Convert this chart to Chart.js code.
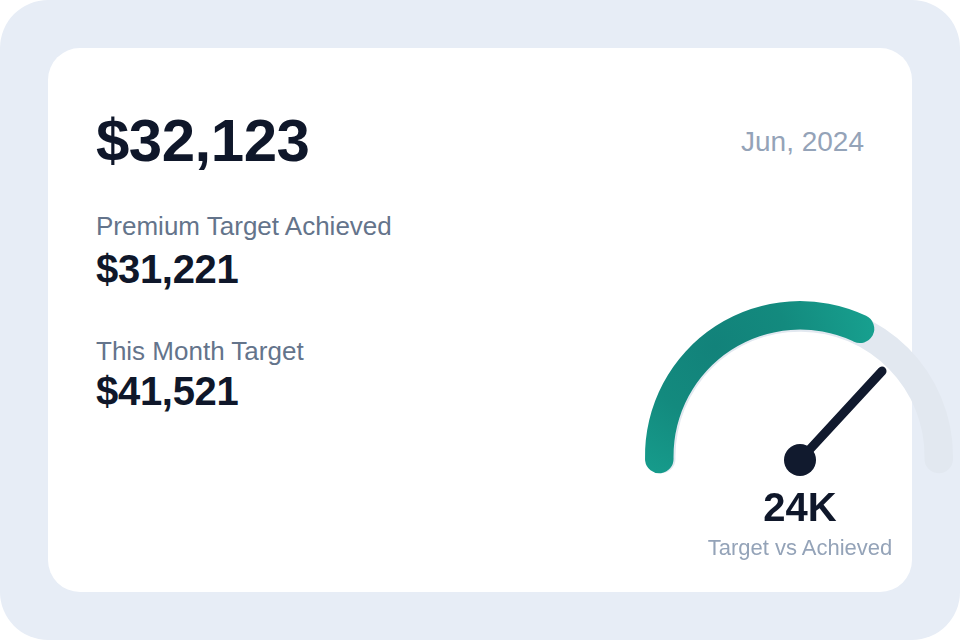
<!DOCTYPE html>
<html>
<head>
<meta charset="utf-8">
<script src="https://cdn.jsdelivr.net/npm/chart.js@4.4.1/dist/chart.umd.min.js"></script>
<style>
  body { margin: 0; background: #ffffff; overflow: hidden; font-family: "Liberation Sans", Arial, sans-serif; }
  #frame { position: absolute; left: 0; top: 0; width: 960px; height: 640px; background: #e7edf6; border-radius: 48px; overflow: hidden; }
  #card { position: absolute; left: 48px; top: 48px; width: 864px; height: 544px; background: #fff; border-radius: 32px; }
  .t { position: absolute; line-height: 1; white-space: nowrap; }
  #total { left: 96px; top: 111px; font-size: 60px; font-weight: bold; color: #0f172a; letter-spacing: -0.5px; }
  #period { right: 96px; top: 128px; font-size: 28px; color: #94a3b8; }
  .lbl { left: 96px; font-size: 26px; color: #64748b; }
  .val { left: 96px; font-size: 40px; font-weight: bold; color: #0f172a; letter-spacing: -0.3px; }
  #gaugeVal { left: 600px; width: 400px; text-align: center; top: 487px; font-size: 40px; font-weight: bold; color: #0f172a; }
  #gaugeCap { left: 600px; width: 400px; text-align: center; top: 537px; font-size: 22px; color: #94a3b8; }
  canvas { position: absolute; }
</style>
</head>
<body>
<div id="frame">
  <div id="card"></div>
  <div class="t" id="total"></div>
  <div class="t" id="period"></div>
  <div class="t lbl" id="lbl0" style="top:213px"></div>
  <div class="t val" id="val0" style="top:249px"></div>
  <div class="t lbl" id="lbl1" style="top:338px"></div>
  <div class="t val" id="val1" style="top:371px"></div>
  <canvas id="track" width="400" height="400"></canvas>
  <canvas id="gauge" width="400" height="400"></canvas>
  <div class="t" id="gaugeVal"></div>
  <div class="t" id="gaugeCap"></div>
</div>
<script>
// headline numbers
const totalValue = "$32,123";
const periodLabel = "Jun, 2024";
const kpiLabels = ["Premium Target Achieved", "This Month Target"];
const kpiValues = ["$31,221", "$41,521"];

// gauge
const gaugeLabels = ["Achieved", "Remaining"];
const gaugeValues = [66, 34];
const trackValues = [100];
const needleValue = 72;
const gaugeText = "24K";
const gaugeCaption = "Target vs Achieved";

document.getElementById("total").textContent = totalValue;
document.getElementById("period").textContent = periodLabel;
kpiLabels.forEach(function (l, i) {
  document.getElementById("lbl" + i).textContent = l;
  document.getElementById("val" + i).textContent = kpiValues[i];
});
document.getElementById("gaugeVal").textContent = gaugeText;
document.getElementById("gaugeCap").textContent = gaugeCaption;

// where the dial sits on the page
const centerX = 800, centerY = 456;

function placeCanvas(chart) {
  const arc = chart.getDatasetMeta(0).data[0];
  chart.canvas.style.left = (centerX - arc.x) + "px";
  chart.canvas.style.top = (centerY - arc.y) + "px";
}

function greenGrad(chart) {
  const area = chart.chartArea;
  if (!area) return "#14917f";
  const ctrl = chart.getDatasetMeta(0).controller;
  const cx = (area.left + area.right) / 2 + (ctrl.offsetX || 0);
  const cy = (area.top + area.bottom) / 2 + (ctrl.offsetY || 0);
  const g = chart.ctx.createRadialGradient(cx - 85, cy - 110, 0, cx - 85, cy - 110, 160);
  g.addColorStop(0, "#12827a");
  g.addColorStop(0.45, "#138a7e");
  g.addColorStop(1, "#17a08f");
  return g;
}

const needlePlugin = {
  id: "needle",
  afterDatasetsDraw(chart) {
    const arc = chart.getDatasetMeta(0).data[0];
    const circ = chart.options.circumference * Math.PI / 180;
    const sum = gaugeValues.reduce((a, b) => a + b, 0);
    const ang = arc.startAngle + needleValue / sum * circ;
    const hx = arc.x, hy = arc.y + 4;
    const len = 121;
    const c = chart.ctx;
    c.save();
    c.strokeStyle = "#111a2e";
    c.lineWidth = 9;
    c.lineCap = "round";
    c.beginPath();
    c.moveTo(hx, hy);
    c.lineTo(hx + Math.cos(ang) * len, hy + Math.sin(ang) * len);
    c.stroke();
    c.fillStyle = "#111a2e";
    c.beginPath();
    c.arc(hx, hy, 16, 0, Math.PI * 2);
    c.fill();
    c.restore();
  }
};

const common = {
  responsive: false,
  animation: false,
  rotation: -97,
  circumference: 194,
  plugins: { legend: { display: false }, tooltip: { enabled: false } },
  layout: { padding: 0 }
};

const track = new Chart(document.getElementById("track").getContext("2d"), {
  type: "doughnut",
  data: {
    labels: ["Track"],
    datasets: [{
      data: trackValues,
      backgroundColor: "#e2e8f0",
      borderWidth: 0,
      borderRadius: 14
    }]
  },
  options: Object.assign({}, common, { radius: 153, cutout: "81.4%" })
});
placeCanvas(track);

const gauge = new Chart(document.getElementById("gauge").getContext("2d"), {
  type: "doughnut",
  data: {
    labels: gaugeLabels,
    datasets: [{
      data: gaugeValues,
      backgroundColor: function (c) {
        return c.dataIndex === 0 ? greenGrad(c.chart) : "rgba(0,0,0,0)";
      },
      borderWidth: 0,
      borderRadius: function (c) { return c.dataIndex === 0 ? 14.5 : 0; }
    }]
  },
  options: Object.assign({}, common, { radius: 155, cutout: "81.6%" }),
  plugins: [needlePlugin]
});
placeCanvas(gauge);
</script>
</body>
</html>
